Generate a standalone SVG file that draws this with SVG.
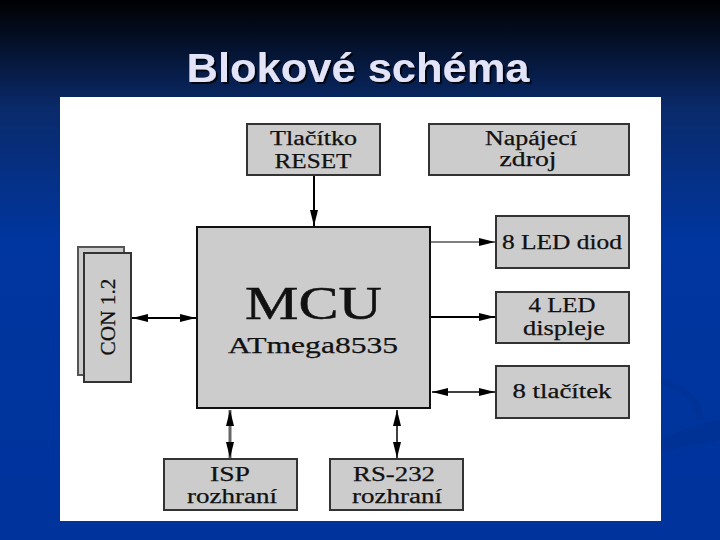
<svg xmlns="http://www.w3.org/2000/svg" width="720" height="540" viewBox="0 0 720 540">
<defs>
<linearGradient id="bg" x1="0" y1="0" x2="0" y2="1">
<stop offset="0" stop-color="#000000"/>
<stop offset="0.2" stop-color="#0a2a6a"/>
<stop offset="0.45" stop-color="#0036a0"/>
<stop offset="1" stop-color="#00339c"/>
</linearGradient>
<marker id="ahl" viewBox="0 0 16 10" refX="16" refY="5" markerWidth="16" markerHeight="10" markerUnits="userSpaceOnUse" orient="auto-start-reverse">
<path d="M0,1 L16,5 L0,9 Z" fill="#000"/>
</marker>
<filter id="sh" x="-5%" y="-5%" width="110%" height="120%">
<feDropShadow dx="2" dy="2" stdDeviation="0.5" flood-color="#000" flood-opacity="0.8"/>
</filter>
</defs>
<style>
.box{fill:#cccccc;stroke:#333;stroke-width:2}
.t{font-family:"Liberation Serif","Times New Roman",serif;font-size:20px;fill:#111;stroke:#111;stroke-width:0.25;text-anchor:middle}
.big{font-size:47px;stroke-width:0.5}
.mid{font-size:23px}
.c{fill:none;stroke:#000;stroke-width:2}
</style>
<rect x="0" y="0" width="720" height="540" fill="url(#bg)"/>
<path d="M661,440 Q690,425 720,420 L720,440 Q690,445 661,452 Z" fill="#00308f" opacity="0.6"/>
<path d="M661,380 Q700,395 700,420" fill="none" stroke="#002f90" stroke-width="6" opacity="0.5"/>
<text x="358" y="82" font-family="Liberation Sans, Arial, sans-serif" font-size="40" font-weight="bold" fill="#e4e4f8" text-anchor="middle" textLength="343" lengthAdjust="spacingAndGlyphs" filter="url(#sh)">Blokové schéma</text>
<rect x="60" y="97" width="601" height="424" fill="#ffffff"/>

<g id="connectors">
<line class="c" x1="314" y1="176" x2="314" y2="226" marker-end="url(#ahl)"/>
<line class="c" x1="431" y1="242" x2="495" y2="242" style="stroke-width:1" marker-end="url(#ahl)"/>
<line class="c" x1="431" y1="317" x2="495" y2="317" marker-end="url(#ahl)"/>
<line class="c" x1="432" y1="392" x2="495" y2="392" style="stroke-width:1.5" marker-start="url(#ahl)" marker-end="url(#ahl)"/>
<line class="c" x1="132" y1="318" x2="196" y2="318" marker-start="url(#ahl)" marker-end="url(#ahl)"/>
<line class="c" x1="230" y1="410" x2="230" y2="458" style="stroke:#666;stroke-width:3" marker-start="url(#ahl)" marker-end="url(#ahl)"/>
<line class="c" x1="397" y1="410" x2="397" y2="458" style="stroke-width:1.5" marker-start="url(#ahl)" marker-end="url(#ahl)"/>
</g>

<g id="reset">
<rect class="box" x="247" y="124" width="133" height="51"/>
<text class="t" x="313.5" y="145" textLength="87" lengthAdjust="spacingAndGlyphs">Tlačítko</text>
<text class="t" x="313" y="168" textLength="77" lengthAdjust="spacingAndGlyphs">RESET</text>
</g>
<g id="napajeci">
<rect class="box" x="429" y="124" width="200" height="51"/>
<text class="t" x="531" y="145" textLength="92" lengthAdjust="spacingAndGlyphs">Napájecí</text>
<text class="t" x="528" y="166" textLength="57" lengthAdjust="spacingAndGlyphs">zdroj</text>
</g>
<g id="led8">
<rect class="box" x="496" y="216" width="133" height="52"/>
<text class="t" x="562" y="249" textLength="120" lengthAdjust="spacingAndGlyphs">8 LED diod</text>
</g>
<g id="led4">
<rect class="box" x="496" y="292" width="133" height="51"/>
<text class="t" x="562" y="312" textLength="67" lengthAdjust="spacingAndGlyphs">4 LED</text>
<text class="t" x="564" y="335" textLength="82" lengthAdjust="spacingAndGlyphs">displeje</text>
</g>
<g id="tlacitek">
<rect class="box" x="496" y="366" width="133" height="52"/>
<text class="t" x="562" y="398" textLength="99" lengthAdjust="spacingAndGlyphs">8 tlačítek</text>
</g>
<g id="mcu">
<rect class="box" x="197" y="227" width="233" height="181" style="stroke:#111"/>
<text class="t big" x="313.5" y="319" textLength="137" lengthAdjust="spacingAndGlyphs">MCU</text>
<text class="t mid" x="313" y="353" textLength="170" lengthAdjust="spacingAndGlyphs">ATmega8535</text>
</g>
<g id="con">
<rect class="box" x="78" y="247" width="46" height="128" style="stroke:#555"/>
<rect class="box" x="84" y="253" width="47" height="129"/>
<text class="t" x="0" y="0" transform="translate(115,317) rotate(-90)" textLength="77" lengthAdjust="spacingAndGlyphs">CON 1.2</text>
</g>
<g id="isp">
<rect class="box" x="164" y="459" width="133" height="51"/>
<text class="t" x="230" y="481" textLength="40" lengthAdjust="spacingAndGlyphs">ISP</text>
<text class="t" x="232" y="503" textLength="90" lengthAdjust="spacingAndGlyphs">rozhraní</text>
</g>
<g id="rs232">
<rect class="box" x="330" y="459" width="133" height="51"/>
<text class="t" x="394" y="481" textLength="82" lengthAdjust="spacingAndGlyphs">RS-232</text>
<text class="t" x="397" y="503" textLength="90" lengthAdjust="spacingAndGlyphs">rozhraní</text>
</g>
</svg>
